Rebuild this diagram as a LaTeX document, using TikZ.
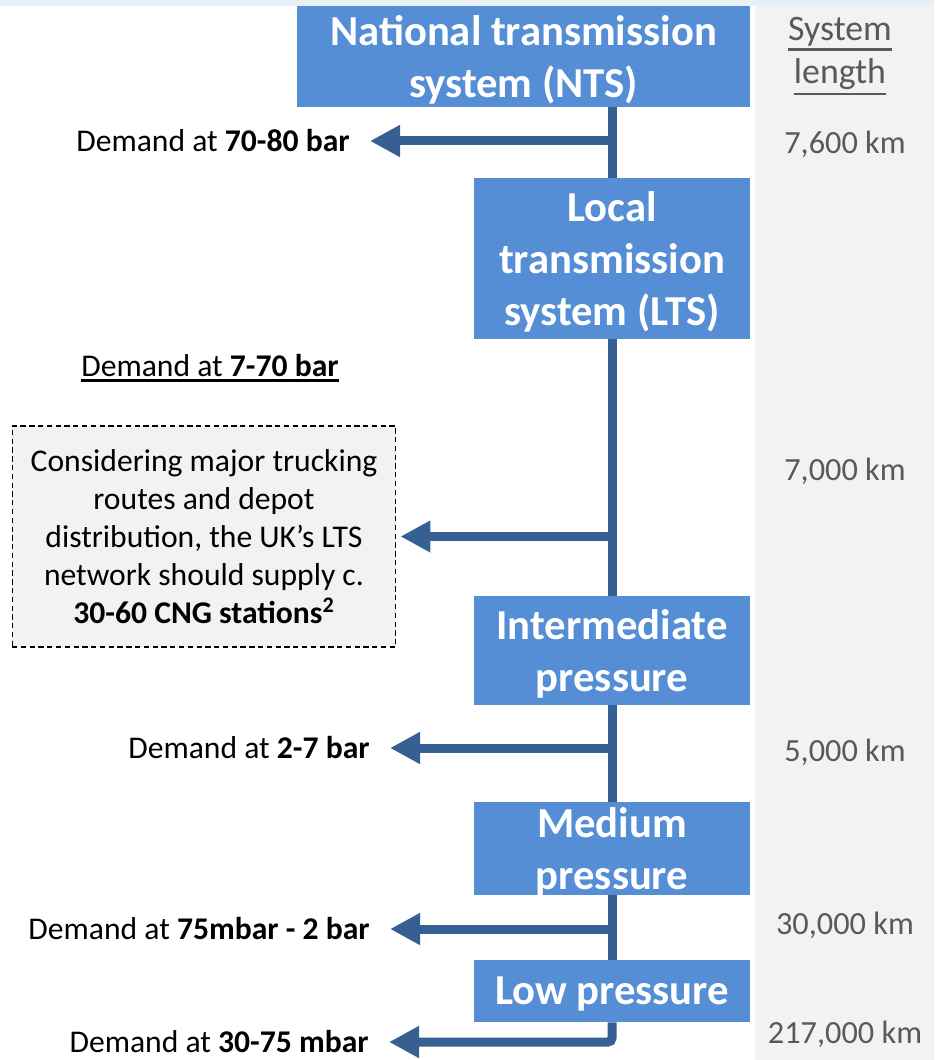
\documentclass[tikz,border=0pt]{standalone}
\usepackage{fontspec}
\setmainfont{Carlito}
\usetikzlibrary{arrows.meta}

\definecolor{stageblue}{RGB}{85,142,213}
\definecolor{pipeblue}{RGB}{55,96,146}
\definecolor{lengthgray}{RGB}{89,89,89}
\definecolor{panelgray}{RGB}{242,242,242}
\definecolor{topstrip}{RGB}{233,239,247}

% heavy underline
\newcommand{\heavyul}[1]{\leavevmode\vtop{\hbox{#1}\kern1.5pt\hrule height 1.4pt}}

\tikzset{
  stage/.style={fill=stageblue, text=white, inner sep=0pt, align=center,
    text depth=0pt, minimum width=5.52cm,
    font=\fontsize{24.3}{29.6}\selectfont\bfseries},
  demand/.style={anchor=east, inner xsep=0.4cm, inner ysep=0pt,
    font=\fontsize{18}{21.6}\selectfont},
  pipe/.style={draw=pipeblue, line width=0.18cm},
  feed/.style={pipe, -{Triangle[length=0.6cm, width=0.6cm]}},
  km/.style={text=lengthgray, font=\fontsize{18.4}{22}\selectfont},
}

\begin{document}
\begin{tikzpicture}[x=0.02cm, y=-0.02cm]
  \useasboundingbox (0,0) rectangle (934,1060);
  \fill[topstrip] (0,0) rectangle (934,6);
  \fill[panelgray] (755,6) rectangle (934,1060);

  % pressure tiers
  \node[stage, minimum width=9.06cm, minimum height=2.02cm] (NTS) at (523.5,56.5)
    {National transmission\\system (NTS)};
  \node[stage, minimum height=3.22cm] (LTS) at (612,258.5)
    {Local\\transmission\\system (LTS)};
  \node[stage, minimum height=2.18cm] (IP) at (612,650.5)
    {Intermediate\\pressure};
  \node[stage, minimum height=1.86cm] (MP) at (612,848.5)
    {Medium\\pressure};
  \node[stage, minimum height=1.24cm] (LP) at (612,991)
    {Low pressure};

  % demand off-takes
  \node[demand] (d1) at (370,141) {Demand at \textbf{70-80 bar}};
  \node[font=\fontsize{18}{21.6}\selectfont] (ltshead) at (210,368)
    {\heavyul{Demand at \textbf{7-70 bar}}};
  \node[draw, dash pattern=on 3pt off 2pt, line width=0.6pt, fill=panelgray,
    minimum width=7.68cm, minimum height=4.42cm, align=center,
    inner sep=0pt, font=\fontsize{18}{21.6}\selectfont] (note) at (204,536.5)
    {Considering major trucking\\routes and depot\\distribution, the UK's LTS\\
     network should supply c.\\\textbf{30-60 CNG stations\textsuperscript{2}}};
  \node[demand] (d3) at (390,748) {Demand at \textbf{2-7 bar}};
  \node[demand] (d4) at (390,929) {Demand at \textbf{75mbar - 2 bar}};
  \node[demand] (d5) at (389,1042) {Demand at \textbf{30-75 mbar}};

  % main pipe
  \draw[pipe] (LTS.north |- NTS.south) -- (LTS.north);
  \draw[pipe] (LTS.south) -- (IP.north);
  \draw[pipe] (IP.south) -- (MP.north);
  \draw[pipe] (MP.south) -- (LP.north);
  \draw[feed, rounded corners=0.08cm] (LP.south) |- (d5.east);
  \draw[feed] (LTS.north |- d1.east) -- (d1.east);
  \draw[feed, shorten >=0.08cm] (LTS.south |- note.east) -- (note.east);
  \draw[feed] (IP.south |- d3.east) -- (d3.east);
  \draw[feed] (MP.south |- d4.east) -- (d4.east);

  % system length column
  \node[km, align=center, font=\fontsize{20.4}{25}\selectfont] (lenhead) at (840,56)
    {\heavyul{System}\\\heavyul{length}};
  \foreach \y/\len [count=\i] in {144/{7,600 km}, 471/{7,000 km}, 752/{5,000 km},
                                   925/{30,000 km}, 1034/{217,000 km}}
    \node[km] (km\i) at (845,\y) {\len};
\end{tikzpicture}
\end{document}
